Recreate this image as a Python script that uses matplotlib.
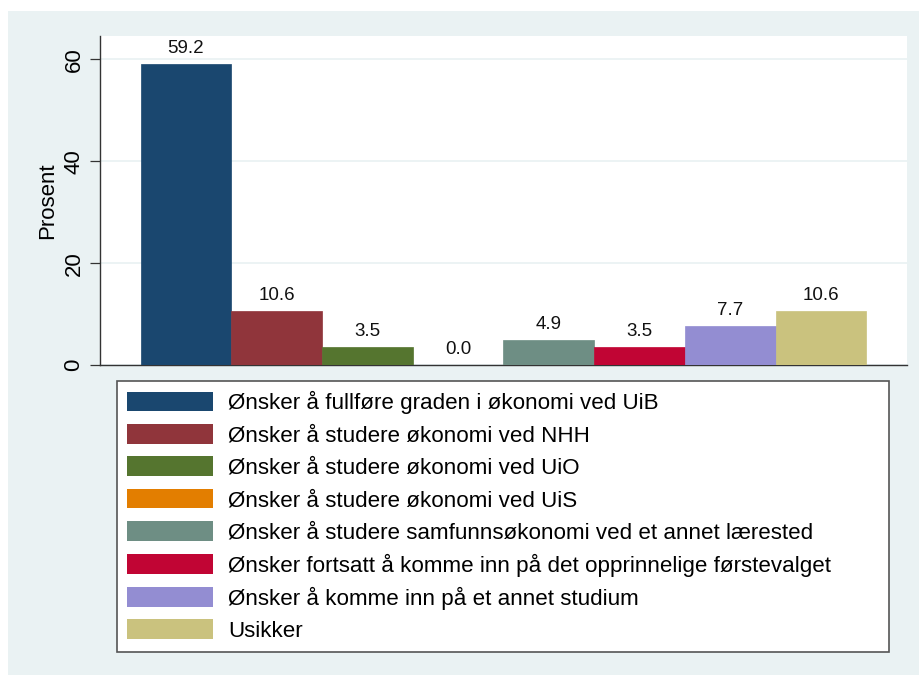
import matplotlib
matplotlib.use("Agg")
import matplotlib.pyplot as plt
from matplotlib.patches import Rectangle, Patch

plt.rcParams['font.family'] = ['Liberation Sans', 'DejaVu Sans']

categories = [
    "Ønsker å fullføre graden i økonomi ved UiB",
    "Ønsker å studere økonomi ved NHH",
    "Ønsker å studere økonomi ved UiO",
    "Ønsker å studere økonomi ved UiS",
    "Ønsker å studere samfunnsøkonomi ved et annet lærested",
    "Ønsker fortsatt å komme inn på det opprinnelige førstevalget",
    "Ønsker å komme inn på et annet studium",
    "Usikker",
]
values = [59.2, 10.6, 3.5, 0.0, 4.9, 3.5, 7.7, 10.6]
colors = ["#1a476f", "#90353b", "#55752f", "#e37e00",
          "#6e8e84", "#c10534", "#938dd2", "#cac27e"]
yticks = [0, 20, 40, 60]
ylabel = "Prosent"

W, H = 920, 675
fig = plt.figure(figsize=(W / 100, H / 100), dpi=100, facecolor="white")
bg = "#eaf2f3"
fig.patches.append(Rectangle((8 / W, 0), 1 - 8 / W, (H - 11) / H,
                             transform=fig.transFigure, facecolor=bg,
                             edgecolor="none", zorder=-10))

ax = fig.add_axes([100 / W, (H - 365) / H, (907 - 100) / W, (365 - 36) / H])
ax.set_zorder(1)
ax.set_facecolor("white")

x = list(range(len(values)))
bars = ax.bar(x, values, width=1.0, color=colors, edgecolor=colors,
              linewidth=0.5, zorder=3)
ax.bar_label(bars, labels=[f"{v:.1f}" for v in values], padding=5,
             fontsize=13.5, color="#111111")

ax.set_xlim(-0.947, len(values) - 1 + 0.947)
ax.set_ylim(0, 64.6)
ax.set_yticks(yticks)
ax.set_yticklabels([str(t) for t in yticks], rotation=90, va="center",
                   fontsize=16)
ax.set_xticks([])
ax.yaxis.grid(True, color=bg, linewidth=1.3, zorder=0)
ax.set_axisbelow(True)
ax.tick_params(axis="y", direction="out", length=7.2, width=0.9,
               color="#333333", pad=4)
ax.set_ylabel(ylabel, fontsize=16, labelpad=4)
for s in ["top", "right"]:
    ax.spines[s].set_visible(False)
for s in ["left", "bottom"]:
    ax.spines[s].set_color("#333333")
    ax.spines[s].set_linewidth(1.0)

handles = [Patch(facecolor=c, edgecolor="none") for c in colors]
x0, x1 = 117 / W, 889 / W
ytop = (H - 381) / H
leg = fig.legend(handles, categories, loc="upper left",
                 bbox_to_anchor=(x0, ytop - 0.4, x1 - x0, 0.4),
                 mode="expand", borderaxespad=0, fontsize=16.1,
                 frameon=True, fancybox=False, shadow=False,
                 handlelength=3.84, handleheight=0.98, handletextpad=0.67,
                 labelspacing=0.44, borderpad=0.45)
fr = leg.get_frame()
fr.set_edgecolor("#555555")
fr.set_linewidth(1.2)
fr.set_facecolor("white")
fr.set_alpha(1)

fig.savefig("out.png", dpi=100, facecolor=fig.get_facecolor())
